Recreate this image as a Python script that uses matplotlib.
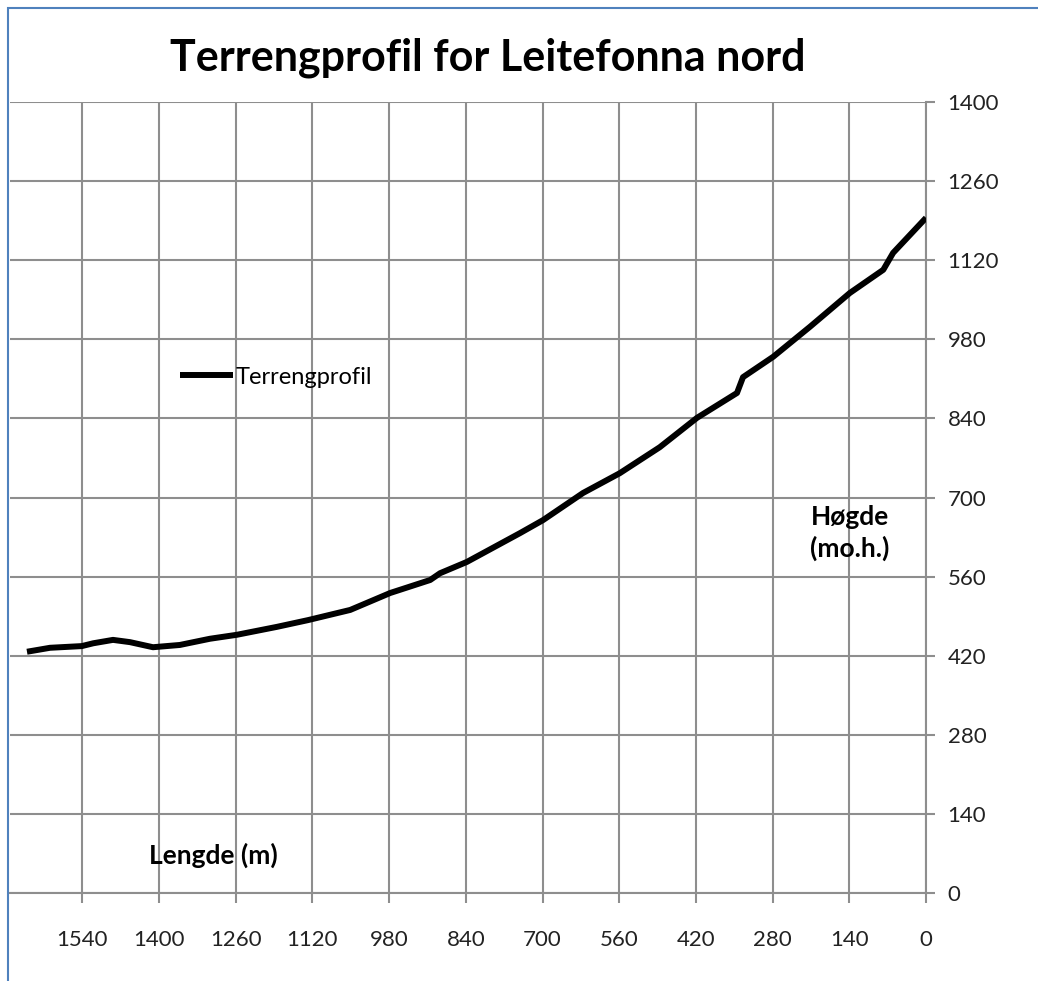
import numpy as np
import matplotlib.pyplot as plt
from matplotlib.patches import Rectangle

# Terrain profile (length in m, height in m.o.h.)
lengde = [1641, 1599, 1541, 1520, 1484, 1453, 1411, 1362, 1307, 1258,
          1185, 1128, 1051, 978, 905, 887, 838, 741, 699, 626,
          559, 486, 418, 345, 334, 279, 212, 139, 78, 60, 0]
hogde = [427, 434, 437, 442, 448, 444, 435, 439, 450, 457,
         471, 483, 501, 531, 554, 566, 586, 637, 660, 708,
         743, 789, 841, 885, 913, 949, 1002, 1062, 1103, 1133, 1195]

x_ticks = list(range(0, 1541, 140))
y_ticks = list(range(0, 1401, 140))

FONT = 'Lato'
GRID = '#8e8e8e'

W, H = 1038, 981
fig = plt.figure(figsize=(W / 100, H / 100), dpi=100)

# chart border (Excel style blue frame)
fig.patches.append(Rectangle((8 / W, -0.1), 1.2, 1 - 8 / H + 0.1,
                             transform=fig.transFigure, fill=False,
                             edgecolor='#4f81bd', linewidth=1.5))

ax = fig.add_axes([10 / W, (H - 893) / H, (926 - 10) / W, (893 - 102) / H])
ax.plot(lengde, hogde, color='black', linewidth=4.3, solid_capstyle='butt',
        label='Terrengprofil', zorder=3)

ax.set_xlim(1672, 0)
ax.set_ylim(0, 1400)
ax.set_xticks(x_ticks)
ax.set_yticks(y_ticks)
ax.grid(True, color=GRID, linewidth=1.5)
ax.set_axisbelow(True)

for side in ['left', 'top']:
    ax.spines[side].set_visible(False)
for side in ['right', 'bottom']:
    ax.spines[side].set_color(GRID)
    ax.spines[side].set_linewidth(1.5)

ax.yaxis.tick_right()
ax.tick_params(axis='x', direction='out', length=7.5, width=1.5, color=GRID,
               pad=19, labelsize=16)
ax.tick_params(axis='y', direction='out', length=6.5, width=1.5, color=GRID,
               pad=9, labelsize=16)
for lbl in ax.get_xticklabels() + ax.get_yticklabels():
    lbl.set_fontfamily(FONT)
    lbl.set_color('#222222')

fig.text(488 / W, 1 - 58 / H, 'Terrengprofil for Leitefonna nord',
         ha='center', va='center', fontsize=31, fontweight='bold',
         family=FONT)

fig.text(213 / W, 1 - 855 / H, 'Lengde (m)', ha='center', va='center',
         fontsize=19, fontweight='bold', family=FONT)
fig.text(850 / W, 1 - 533 / H, 'Høgde\n(mo.h.)', ha='center', va='center',
         fontsize=19, fontweight='bold', family=FONT, linespacing=1.35)

leg = ax.legend(loc='center left', bbox_to_anchor=(180 / W, 1 - 377 / H),
                bbox_transform=fig.transFigure, frameon=False,
                prop={'family': FONT, 'size': 17}, handlelength=2.25,
                handletextpad=0.1, borderpad=0, borderaxespad=0)

fig.savefig('out.png', dpi=100, facecolor='white')
